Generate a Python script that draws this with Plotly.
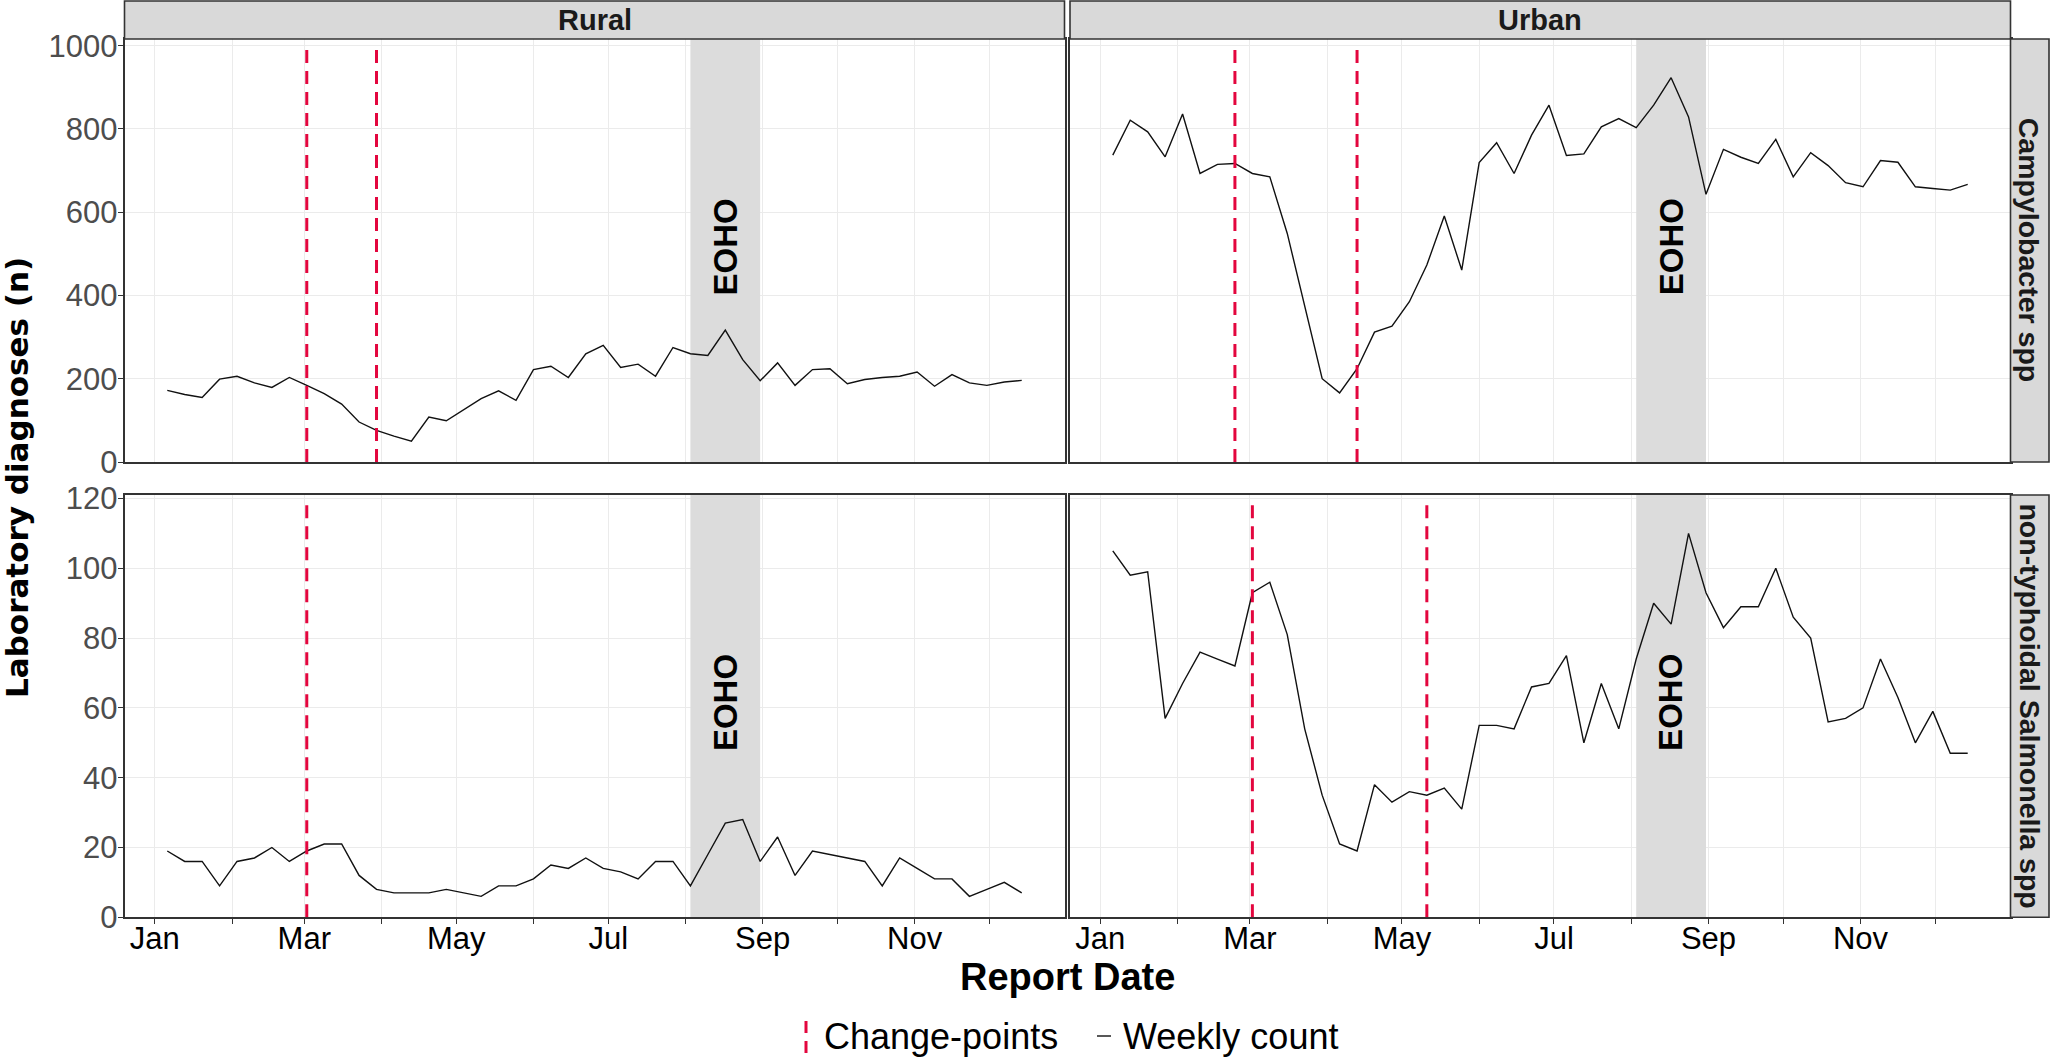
import plotly.graph_objects as go
import pandas as pd

W, H = 2050, 1059

# ---------------- data ----------------
weeks = pd.date_range("2020-01-06", periods=50, freq="7D")

rural_campy = [172, 162, 155, 199, 206, 190, 179, 203, 184, 164,
               139, 96, 76, 62, 50, 108, 99, 126, 152, 171,
               148, 222, 230, 203, 260, 280, 227, 235, 206, 275,
               260, 256, 317, 246, 195, 238, 184, 222, 224, 188,
               198, 203, 206, 216, 182, 210, 190, 184, 192, 196]
urban_campy = [737, 821, 793, 733, 836, 693, 715, 717, 693, 685,
               549, 377, 200, 166, 224, 312, 326, 385, 473, 591,
               461, 719, 767, 693, 785, 857, 736, 740, 805, 825,
               803, 857, 923, 829, 643, 751, 732, 717, 775, 685,
               743, 712, 671, 661, 724, 720, 661, 657, 653, 667]
rural_salm = [19, 16, 16, 9, 16, 17, 20, 16, 19, 21,
              21, 12, 8, 7, 7, 7, 8, 7, 6, 9,
              9, 11, 15, 14, 17, 14, 13, 11, 16, 16,
              9, 18, 27, 28, 16, 23, 12, 19, 18, 17,
              16, 9, 17, 14, 11, 11, 6, 8, 10, 7]
urban_salm = [105, 98, 99, 57, 67, 76, 74, 72, 93, 96,
              81, 54, 35, 21, 19, 38, 33, 36, 35, 37,
              31, 55, 55, 54, 66, 67, 75, 50, 67, 54,
              74, 90, 84, 110, 93, 83, 89, 89, 100, 86,
              80, 56, 57, 60, 74, 63, 50, 59, 47, 47]

cp_rural_campy = ["2020-03-02", "2020-03-30"]
cp_urban_campy = ["2020-02-24", "2020-04-13"]
cp_rural_salm = ["2020-03-02"]
cp_urban_salm = ["2020-03-02", "2020-05-11"]

eoho_start, eoho_end, eoho_mid = "2020-08-03", "2020-08-31", "2020-08-17"

columns = ["Rural", "Urban"]
rows = ["Campylobacter spp", "non-typhoidal Salmonella spp"]

month_ticks = ["2020-%02d-01" % m for m in range(1, 13)]
month_labels = ["Jan", "", "Mar", "", "May", "", "Jul", "", "Sep", "", "Nov", ""]

y_ticks_row = [[0, 200, 400, 600, 800, 1000], [0, 20, 40, 60, 80, 100, 120]]
y_range_row = [[0, 1016], [0, 121]]
x_range = ["2019-12-19 20:00", "2020-12-31 04:00"]

panels = [
    (0, 0, rural_campy, cp_rural_campy),
    (1, 0, urban_campy, cp_urban_campy),
    (0, 1, rural_salm, cp_rural_salm),
    (1, 1, urban_salm, cp_urban_salm),
]

# ---------------- geometry (pixels) ----------------
col_px = [(124.5, 1064.5), (1070.0, 2010.5)]
row_px = [(39.0, 462.0), (495.0, 917.3)]
strip_top = (1.0, 39.0)
strip_right = (2010.5, 2049.0)


def fx(p):
    return p / W


def fy(p):
    return 1 - p / H


FONT = "Liberation Sans, Arial, sans-serif"
WIDE = "DejaVu Sans, Verdana, sans-serif"
RED = "#E3063E"
BORDER = "#333333"
GRID = "#EBEBEB"

fig = go.Figure()
layout = dict(
    width=W, height=H, margin=dict(l=0, r=0, t=0, b=0, autoexpand=False),
    paper_bgcolor="white", plot_bgcolor="white", showlegend=False,
    font=dict(family=FONT, color="black"),
)
shapes = []
annotations = []


def note(x, y, text, size, family=FONT, color="black", angle=0, xanchor="center"):
    annotations.append(dict(xref="paper", yref="paper", x=fx(x), y=fy(y),
                            xanchor=xanchor, yanchor="middle", text=text,
                            textangle=angle, showarrow=False,
                            font=dict(size=size, color=color, family=family)))


for c, r, vals, cps in panels:
    idx = r * 2 + c + 1
    xa = "x" if idx == 1 else "x%d" % idx
    ya = "y" if idx == 1 else "y%d" % idx
    xkey = "xaxis" if idx == 1 else "xaxis%d" % idx
    ykey = "yaxis" if idx == 1 else "yaxis%d" % idx
    ytop = y_range_row[r][1]

    fig.add_trace(go.Scatter(x=weeks, y=vals, mode="lines",
                             line=dict(color="#111111", width=1.4),
                             xaxis=xa, yaxis=ya, showlegend=False,
                             hoverinfo="x+y"))

    bottom = r == 1
    left = c == 0
    layout[xkey] = dict(
        type="date", range=x_range, domain=[fx(col_px[c][0]), fx(col_px[c][1])],
        anchor=ya, tickvals=month_ticks, ticktext=month_labels,
        showgrid=True, gridcolor=GRID, gridwidth=1.3, zeroline=False,
        showline=True, mirror=True, linecolor=BORDER, linewidth=1.6,
        ticks="outside" if bottom else "", ticklen=5, tickwidth=1.4, tickcolor=BORDER,
        showticklabels=bottom, tickfont=dict(size=31, color="black", family=FONT),
        ticklabelstandoff=-12,
    )
    layout[ykey] = dict(
        range=y_range_row[r], domain=[fy(row_px[r][1]), fy(row_px[r][0])],
        anchor=xa, tickvals=y_ticks_row[r],
        showgrid=True, gridcolor=GRID, gridwidth=1.3, zeroline=False,
        showline=True, mirror=True, linecolor=BORDER, linewidth=1.6,
        ticks="outside" if left else "", ticklen=5, tickwidth=1.4, tickcolor=BORDER,
        showticklabels=left, tickfont=dict(size=31, color="#4D4D4D", family=FONT),
        ticklabelstandoff=-6,
    )

    # EOHO shaded period
    shapes.append(dict(type="rect", xref=xa, yref=ya,
                       x0=eoho_start, x1=eoho_end, y0=0, y1=ytop,
                       fillcolor="#DCDCDC", line=dict(width=0), layer="between"))
    annotations.append(dict(xref=xa, yref=ya, x=eoho_mid, y=0.508 * ytop,
                            xanchor="center", yanchor="middle",
                            text="<b>EOHO</b>", textangle=-90, showarrow=False,
                            font=dict(size=33, color="black", family=FONT)))
    # change-points
    for d in cps:
        shapes.append(dict(type="line", xref=xa, yref=ya,
                           x0=d, x1=d, y0=0, y1=0.976 * ytop,
                           line=dict(color=RED, width=3, dash="13px,8px"),
                           layer="above"))

# strips
for c, name in enumerate(columns):
    shapes.append(dict(type="rect", xref="paper", yref="paper",
                       x0=fx(col_px[c][0]), x1=fx(col_px[c][1]),
                       y0=fy(strip_top[1]), y1=fy(strip_top[0]),
                       fillcolor="#D9D9D9", line=dict(color=BORDER, width=1.6)))
    note((col_px[c][0] + col_px[c][1]) / 2, (strip_top[0] + strip_top[1]) / 2,
         "<b>%s</b>" % name, 29, color="#1A1A1A")
for r, name in enumerate(rows):
    shapes.append(dict(type="rect", xref="paper", yref="paper",
                       x0=fx(strip_right[0]), x1=fx(strip_right[1]),
                       y0=fy(row_px[r][1]), y1=fy(row_px[r][0]),
                       fillcolor="#D9D9D9", line=dict(color=BORDER, width=1.6)))
    note((strip_right[0] + strip_right[1]) / 2, (row_px[r][0] + row_px[r][1]) / 2,
         "<b>%s</b>" % name, 28.5, color="#1A1A1A", angle=90)

# axis titles
note(17, 478, "<b>Laboratory diagnoses (n)</b>", 31, family=WIDE, angle=-90)
note(1067, 977, "<b>Report Date</b>", 38)

# legend (drawn manually to reproduce the vertical key glyph)
shapes.append(dict(type="line", xref="paper", yref="paper",
                   x0=fx(806), x1=fx(806), y0=fy(1053), y1=fy(1018),
                   line=dict(color=RED, width=3, dash="12px,8px")))
shapes.append(dict(type="line", xref="paper", yref="paper",
                   x0=fx(1097), x1=fx(1111), y0=fy(1036), y1=fy(1036),
                   line=dict(color="#111111", width=1.4)))
note(822, 1036, "Change-points", 36, xanchor="left")
note(1121, 1036, "Weekly count", 36, xanchor="left")

layout["shapes"] = shapes
layout["annotations"] = annotations
fig.update_layout(**layout)
fig.write_html("out.html",
               config={"displayModeBar": False},
               post_script="document.body.style.margin='0px';"
                           "document.body.style.overflow='hidden';")
